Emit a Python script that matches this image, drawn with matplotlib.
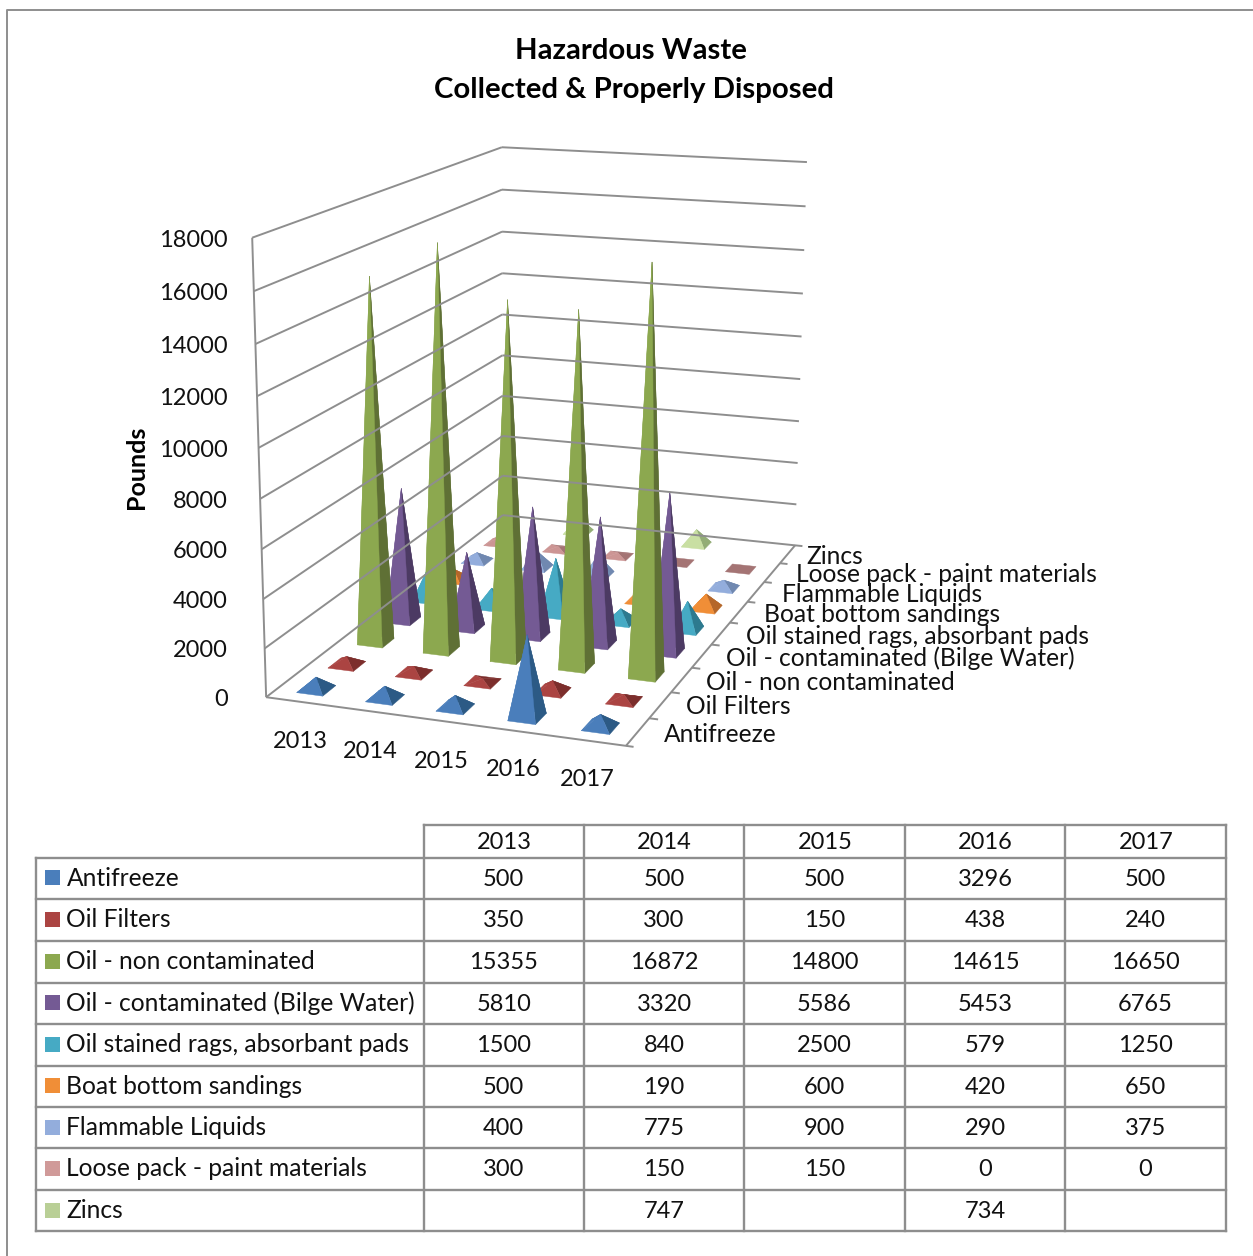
import numpy as np
import matplotlib
matplotlib.use("Agg")
import matplotlib.pyplot as plt

W, H = 1253, 1256
years = ["2013", "2014", "2015", "2016", "2017"]
series = ["Antifreeze", "Oil Filters", "Oil - non contaminated",
          "Oil - contaminated (Bilge Water)", "Oil stained rags, absorbant pads",
          "Boat bottom sandings", "Flammable Liquids",
          "Loose pack - paint materials", "Zincs"]
antifreeze = [500, 500, 500, 3296, 500]
oil_filters = [350, 300, 150, 438, 240]
oil_non = [15355, 16872, 14800, 14615, 16650]
oil_cont = [5810, 3320, 5586, 5453, 6765]
rags = [1500, 840, 2500, 579, 1250]
boat = [500, 190, 600, 420, 650]
flammable = [400, 775, 900, 290, 375]
loose = [300, 150, 150, 0, 0]
zincs = [None, 747, None, 734, None]
values = [antifreeze, oil_filters, oil_non, oil_cont, rags, boat, flammable, loose, zincs]
front_col = ["#4A7EBB", "#AB4442", "#8CA84F", "#745A94", "#46AAC4", "#F08E37", "#93ADDC", "#CC9594", "#C9DFA3"]
side_col = ["#2C5A85", "#7C2E2C", "#5F7035", "#4C3A63", "#2D7A8F", "#B5672A", "#7088B0", "#A47474", "#93AD76"]
key_col = ["#4A7EBB", "#AB4442", "#8CA84F", "#745A94", "#46AAC4", "#F08E37", "#93ADDC", "#D09A99", "#B9CF96"]
z_ticks = list(range(0, 18001, 2000))
FONT = "Lato"
GRID = "#8E8E8E"
NUM_SIZE = 17
LABEL_SIZE = 17.7
TITLE_SIZE = 21.2

fig = plt.figure(figsize=(W / 100, H / 100), dpi=100)
ax = fig.add_axes([0, 0, 1, 1])
ax.set_xlim(0, W)
ax.set_ylim(H, 0)
ax.axis("off")

# Perspective camera fitted to the chart box corners (x=year cell, y=series cell, z=pounds/18000)
world = [(0, 0, 0), (0, 0, 1), (5, 0, 0), (5, 9, 0), (5, 9, 1), (0, 9, 1), (0, 9, 0)]
screen = [(266, 697.3), (252.3, 237.7), (626, 745.7), (795, 545.5), (807, 162), (501.7, 147.3), (503, 515)]
A, b = [], []
for (X, Y, Z), (u, v) in zip(world, screen):
    A.append([X, Y, Z, 1, 0, 0, 0, 0, -u * X, -u * Y, -u * Z]); b.append(u)
    A.append([0, 0, 0, 0, X, Y, Z, 1, -v * X, -v * Y, -v * Z]); b.append(v)
sol = np.linalg.lstsq(np.array(A, float), np.array(b, float), rcond=None)[0]
P = np.append(sol, 1).reshape(3, 4)


def proj(x, y, val):
    p = P @ np.array([x, y, val / 18000.0, 1.0])
    return p[0] / p[2], p[1] / p[2]


def line3(a, b, **kw):
    pa, pb = proj(*a), proj(*b)
    ax.plot([pa[0], pb[0]], [pa[1], pb[1]], color=GRID, lw=1.4, solid_capstyle="butt", **kw)


# Walls and floor edges
for v in z_ticks:
    line3((0, 0, v), (0, 9, v))
    line3((0, 9, v), (5.12 if v == 0 else 5, 9, v))
line3((0, 0, 0), (0, 0, 18000))
line3((0, 0, 0), (5.1, 0, 0))
line3((5, 0, 0), (5, 9, 0))
for s in range(1, 9):
    line3((5, s, 0), (5.12, s, 0))

# Pyramids, back to front and left to right
HX, HY = 0.19, 0.21
for s in range(8, -1, -1):
    for c in range(5):
        v = values[s][c]
        if v is None:
            continue
        cx, cy = c + 0.5, s + 0.5
        fl = proj(cx - HX, cy - HY, 0)
        fr = proj(cx + HX, cy - HY, 0)
        br = proj(cx + HX, cy + HY, 0)
        bl = proj(cx - HX, cy + HY, 0)
        top = proj(cx, cy, v)
        if v == 0:
            ax.fill(*zip(fl, fr, br, bl), color=side_col[s], lw=0.3)
            continue
        faces = [((bl, br, top), side_col[s]), ((fl, bl, top), front_col[s]),
                 ((fr, br, top), side_col[s]), ((fl, fr, top), front_col[s])]
        for pts, col in faces:
            ax.fill(*zip(*pts), color=col, lw=0.3)

# Axis labels
for v in z_ticks:
    u, w = proj(0, 0, v)
    ax.text(228, w + 2.5, str(v), ha="right", va="center", fontsize=NUM_SIZE, family=FONT, color="#111111")
year_xy = [(300, 741), (370, 751), (441, 761), (513, 770), (587, 780)]
for y, (u, w) in zip(years, year_xy):
    ax.text(u, w, y, ha="center", va="center", fontsize=NUM_SIZE, family=FONT, color="#111111")
series_xy = [(663.5, 734), (685.5, 707), (706.5, 682), (726.5, 658), (745.5, 636), (764.5, 614), (781.5, 594), (796.5, 575), (806, 556)]
for n, (u, w) in zip(series, series_xy):
    ax.text(u, w, n, ha="left", va="center", fontsize=LABEL_SIZE, family=FONT, color="#111111")
ax.text(137, 467, "Pounds", rotation=90, ha="center", va="center", fontsize=18, weight="bold", family=FONT, color="black")

# Title
ax.text(631, 51, "Hazardous Waste", ha="center", va="center", fontsize=TITLE_SIZE, weight="bold", family=FONT, color="black")
ax.text(634, 90, "Collected & Properly Disposed", ha="center", va="center", fontsize=TITLE_SIZE, weight="bold", family=FONT, color="black")

# Outer frame
ax.plot([6.5, 6.5, W], [H, 9.5, 9.5], color=GRID, lw=1.4)

# Data table
col_x = [36, 423.5, 584, 744, 905, 1065, 1226]
row_y = [825, 857.5, 899, 940.5, 982.5, 1024, 1065.5, 1107, 1148, 1190, 1231]
for i, y in enumerate(row_y):
    ax.plot([col_x[1] if i == 0 else col_x[0], col_x[-1]], [y, y], color=GRID, lw=1.7)
for i, x in enumerate(col_x):
    ax.plot([x, x], [row_y[1] if i == 0 else row_y[0], row_y[-1]], color=GRID, lw=1.7)
for c, y in enumerate(years):
    ax.text((col_x[c + 1] + col_x[c + 2]) / 2 + 0.5, (row_y[0] + row_y[1]) / 2 + 1, y, ha="center", va="center",
            fontsize=NUM_SIZE, family=FONT, color="#111111")
for s, n in enumerate(series):
    yc = (row_y[s + 1] + row_y[s + 2]) / 2
    ax.add_patch(plt.Rectangle((45, yc - 8), 15, 15, color=key_col[s], lw=0))
    ax.text(66.5, yc, n, ha="left", va="center", fontsize=LABEL_SIZE, family=FONT, color="#111111")
    for c in range(5):
        v = values[s][c]
        if v is not None:
            ax.text((col_x[c + 1] + col_x[c + 2]) / 2, yc + 1, str(v), ha="center", va="center",
                    fontsize=NUM_SIZE, family=FONT, color="#111111")

fig.savefig("out.png", dpi=100, facecolor="white")
